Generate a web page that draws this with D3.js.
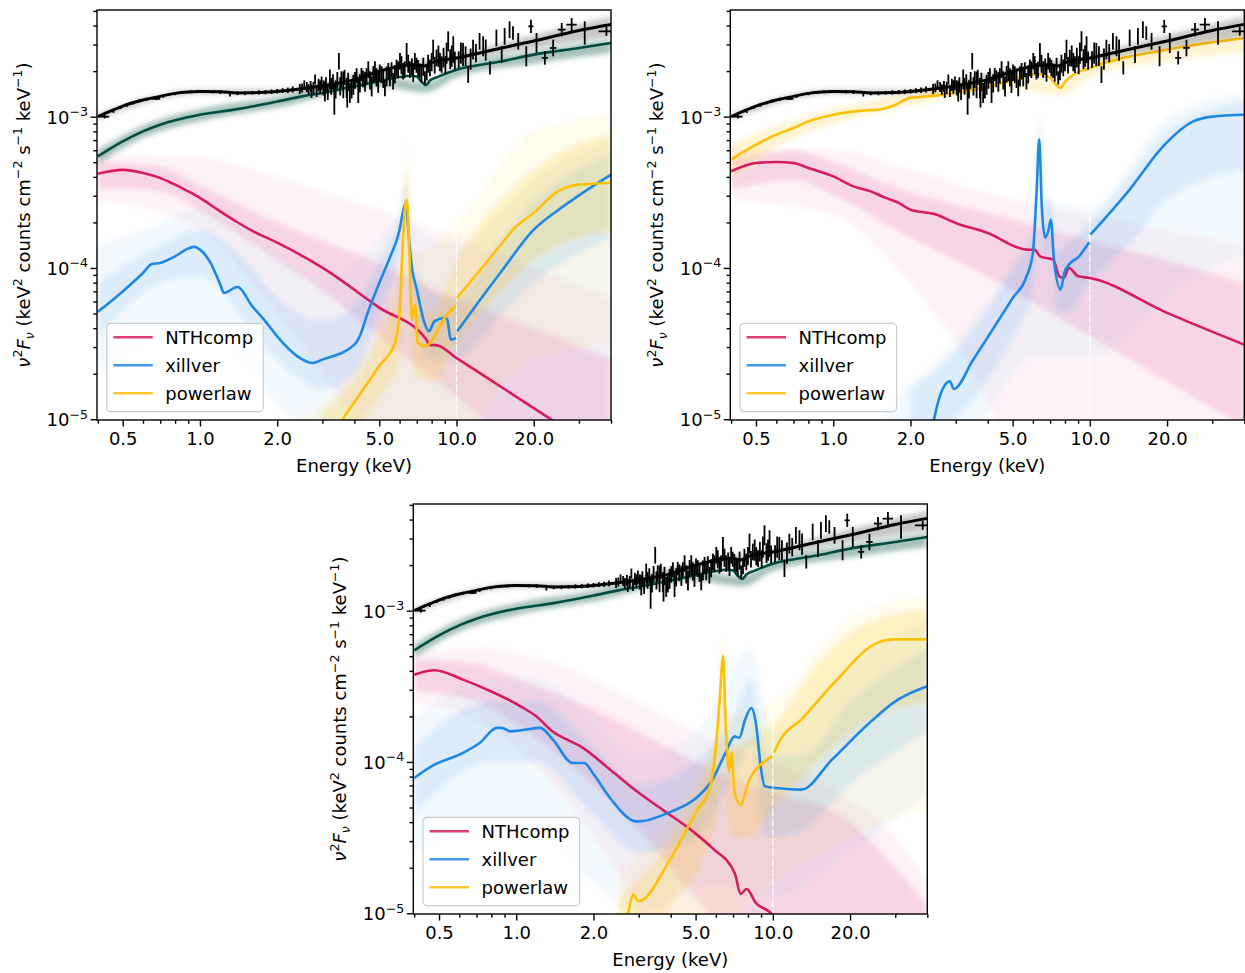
<!DOCTYPE html>
<html>
<head>
<meta charset="utf-8">
<script src="https://cdn.jsdelivr.net/npm/d3@7"></script>
<style>
  body { margin: 0; background: #fff; }
  svg { display: block; font-family: "DejaVu Sans", sans-serif; }
</style>
</head>
<body>
<svg id="fig" width="1245" height="973"></svg>
<script>
// ---------- ticks and labels ----------
const xMajor = [0.5, 1, 2, 5, 10, 20]
const xMajorLabels = ['0.5', '1.0', '2.0', '5.0', '10.0', '20.0']
const xMinor = [0.4, 0.6, 0.7, 0.8, 0.9, 3, 4, 6, 7, 8, 9, 30, 40]
const yMajor = [1e-5, 1e-4, 1e-3]
const yMajorExp = ['−5', '−4', '−3']
const yMinor = [2e-5, 3e-5, 4e-5, 5e-5, 6e-5, 7e-5, 8e-5, 9e-5,
  2e-4, 3e-4, 4e-4, 5e-4, 6e-4, 7e-4, 8e-4, 9e-4, 2e-3, 3e-3, 4e-3, 5e-3]
const legendLabels = ['NTHcomp', 'xillver', 'powerlaw']

// ---------- data: [energy keV, log10 flux, log10 error, energy half-width] ----------
const spectrum = [
  [0.425, -3.0, 0.012, 0.018], [0.46, -2.965, 0.01, 0], [0.49, -2.94, 0.01, 0], [0.52, -2.925, 0.01, 0],
  [0.55, -2.91, 0.01, 0], [0.58, -2.895, 0.01, 0], [0.62, -2.885, 0.01, 0], [0.675, -2.882, 0.008, 0.025],
  [0.72, -2.866, 0.01, 0], [0.8, -2.848, 0.01, 0], [0.86, -2.84, 0.01, 0], [0.92, -2.836, 0.01, 0],
  [0.98, -2.833, 0.01, 0], [1.05, -2.834, 0.01, 0], [1.12, -2.836, 0.01, 0], [1.2, -2.838, 0.012, 0],
  [1.31, -2.855, 0.012, 0], [1.4, -2.846, 0.012, 0], [1.5, -2.846, 0.012, 0], [1.6, -2.842, 0.012, 0],
  [1.7, -2.84, 0.014, 0], [1.8, -2.838, 0.014, 0], [1.9, -2.835, 0.015, 0], [2.0, -2.832, 0.015, 0],
  [2.1, -2.828, 0.016, 0], [2.2, -2.826, 0.018, 0], [2.3, -2.82, 0.02, 0], [2.45, -2.817, 0.033, 0],
  [2.5, -2.81, 0.03, 0], [2.55, -2.79, 0.03, 0], [2.61, -2.804, 0.033, 0], [2.65, -2.82, 0.035, 0],
  [2.7, -2.8, 0.035, 0], [2.72, -2.833, 0.044, 0], [2.77, -2.81, 0.04, 0], [2.81, -2.755, 0.033, 0],
  [2.85, -2.83, 0.04, 0], [2.9, -2.79, 0.04, 0], [2.94, -2.804, 0.044, 0], [2.98, -2.78, 0.045, 0],
  [3.03, -2.81, 0.05, 0], [3.07, -2.833, 0.066, 0], [3.1, -2.79, 0.05, 0], [3.15, -2.84, 0.05, 0],
  [3.21, -2.755, 0.066, 0], [3.25, -2.8, 0.055, 0], [3.3, -2.77, 0.05, 0], [3.34, -2.888, 0.099, 0],
  [3.38, -2.82, 0.06, 0], [3.43, -2.76, 0.055, 0], [3.48, -2.634, 0.055, 0], [3.52, -2.8, 0.06, 0],
  [3.56, -2.755, 0.055, 0], [3.62, -2.79, 0.088, 0], [3.66, -2.74, 0.05, 0], [3.73, -2.81, 0.066, 0],
  [3.75, -2.88, 0.06, 0], [3.78, -2.77, 0.06, 0], [3.84, -2.843, 0.066, 0], [3.9, -2.82, 0.06, 0],
  [3.96, -2.79, 0.066, 0], [4.02, -2.76, 0.055, 0], [4.08, -2.73, 0.05, 0], [4.14, -2.833, 0.077, 0],
  [4.2, -2.78, 0.06, 0], [4.26, -2.722, 0.044, 0], [4.32, -2.75, 0.055, 0], [4.4, -2.77, 0.066, 0],
  [4.46, -2.73, 0.05, 0], [4.53, -2.689, 0.055, 0], [4.6, -2.76, 0.06, 0], [4.67, -2.8, 0.066, 0],
  [4.74, -2.72, 0.055, 0], [4.81, -2.7, 0.066, 0], [4.88, -2.74, 0.06, 0], [4.95, -2.777, 0.066, 0],
  [5.02, -2.71, 0.055, 0], [5.1, -2.722, 0.055, 0], [5.18, -2.75, 0.06, 0], [5.26, -2.81, 0.055, 0],
  [5.34, -2.734, 0.066, 0], [5.42, -2.7, 0.055, 0], [5.5, -2.744, 0.055, 0], [5.58, -2.69, 0.05, 0],
  [5.66, -2.766, 0.055, 0], [5.75, -2.72, 0.06, 0], [5.84, -2.678, 0.055, 0], [5.92, -2.69, 0.055, 0],
  [6.02, -2.634, 0.055, 0], [6.1, -2.66, 0.06, 0], [6.19, -2.7, 0.055, 0], [6.28, -2.69, 0.055, 0],
  [6.39, -2.59, 0.077, 0], [6.48, -2.65, 0.06, 0], [6.58, -2.689, 0.055, 0], [6.7, -2.67, 0.055, 0],
  [6.78, -2.71, 0.06, 0], [6.88, -2.634, 0.055, 0], [6.98, -2.66, 0.05, 0], [7.08, -2.68, 0.055, 0],
  [7.19, -2.7, 0.044, 0], [7.3, -2.72, 0.05, 0], [7.42, -2.67, 0.06, 0], [7.53, -2.744, 0.044, 0],
  [7.65, -2.71, 0.05, 0], [7.75, -2.65, 0.06, 0], [7.88, -2.678, 0.055, 0], [8.0, -2.64, 0.06, 0],
  [8.11, -2.557, 0.066, 0], [8.22, -2.66, 0.055, 0], [8.36, -2.612, 0.055, 0], [8.5, -2.6, 0.07, 0],
  [8.62, -2.64, 0.06, 0], [8.75, -2.656, 0.055, 0], [8.9, -2.61, 0.065, 0], [9.05, -2.66, 0.06, 0],
  [9.15, -2.58, 0.07, 0], [9.28, -2.502, 0.066, 0], [9.45, -2.62, 0.065, 0], [9.58, -2.6, 0.07, 0],
  [9.71, -2.557, 0.088, 0], [9.85, -2.63, 0.06, 0], [10.2, -2.623, 0.055, 0], [10.4, -2.58, 0.07, 0],
  [10.6, -2.59, 0.077, 0], [10.85, -2.6, 0.065, 0], [11.1, -2.722, 0.055, 0], [11.35, -2.62, 0.07, 0],
  [11.6, -2.557, 0.066, 0], [11.9, -2.58, 0.06, 0], [12.3, -2.502, 0.055, 0], [12.7, -2.535, 0.066, 0],
  [13.0, -2.56, 0.07, 0], [13.5, -2.678, 0.044, 0], [14.3, -2.48, 0.055, 0], [15.0, -2.59, 0.055, 0],
  [15.4, -2.469, 0.055, 0], [16.1, -2.425, 0.055, 0], [16.6, -2.447, 0.044, 0], [17.4, -2.502, 0.055, 0],
  [18.7, -2.601, 0.066, 0], [19.5, -2.403, 0.044, 0.45], [20.5, -2.513, 0.066, 0], [22.1, -2.612, 0.044, 0.6],
  [23.8, -2.546, 0.055, 0.7], [25.7, -2.425, 0.044, 0.9], [28.1, -2.392, 0.044, 1.3], [31.6, -2.447, 0.077, 0],
  [38.4, -2.436, 0.03, 2.6]
]

// ---------- total model (black) and summed model (green), log10 flux ----------
const totalLog = [[0.4, -3.0], [0.45, -2.962], [0.5, -2.93], [0.6, -2.89], [0.7, -2.866], [0.8, -2.846],
  [0.9, -2.837], [1.0, -2.834], [1.2, -2.836], [1.4, -2.843], [1.6, -2.842], [2.0, -2.833], [2.5, -2.815],
  [3, -2.795], [4, -2.755], [5, -2.70], [6, -2.667], [6.4, -2.66], [7.0, -2.656], [7.5, -2.665], [8, -2.643],
  [10, -2.612], [15, -2.546], [20, -2.50], [30, -2.43], [40, -2.39]]
const totalLo = [[0.4, -3.02], [1, -2.85], [2, -2.85], [5, -2.72], [10, -2.64], [20, -2.55], [40, -2.47]]
const totalHi = [[0.4, -2.98], [1, -2.82], [2, -2.82], [5, -2.68], [10, -2.59], [20, -2.46], [40, -2.34]]

const modelLog = [[0.4, -3.262], [0.5, -3.163], [0.6, -3.097], [0.7, -3.053], [0.8, -3.024], [1.0, -2.987],
  [1.4, -2.95], [2.0, -2.90], [2.5, -2.866], [3, -2.843], [4, -2.80], [5, -2.766], [6, -2.738], [6.6, -2.73],
  [7.0, -2.735], [7.3, -2.77], [7.6, -2.79], [7.9, -2.76], [8.5, -2.735], [10, -2.69], [15, -2.634],
  [20, -2.59], [30, -2.546], [40, -2.513]]
const modelLo = [[0.4, -3.31], [0.6, -3.14], [1, -3.03], [2, -2.94], [5, -2.80], [7.6, -2.84], [10, -2.74],
  [20, -2.65], [40, -2.58]]
const modelHi = [[0.4, -3.22], [0.6, -3.06], [1, -2.95], [2, -2.87], [5, -2.74], [7.6, -2.77], [10, -2.67],
  [20, -2.57], [40, -2.49]]

// ---------- panel 1 components ----------
const p1Nth = [[0.4, -3.377], [0.5, -3.352], [0.6, -3.372], [0.7, -3.405], [0.8, -3.449], [0.9, -3.494],
  [1.0, -3.537], [1.2, -3.626], [1.4, -3.698], [1.6, -3.755], [2.0, -3.833], [3.0, -3.998], [5.0, -4.262],
  [7.6, -4.47], [7.9, -4.51], [8.3, -4.51], [10, -4.596], [20, -4.927], [40, -5.257]]
const p1NthBand = {
  lo: [[0.4, -3.47], [0.7, -3.49], [1, -3.62], [2, -3.95], [3, -4.15], [5, -4.45], [10, -4.85], [20, -5.3], [40, -5.8]],
  hi: [[0.4, -3.30], [0.7, -3.33], [1, -3.45], [2, -3.70], [3, -3.82], [5, -3.97], [10, -4.2], [20, -4.4], [40, -4.6]],
  lo2: [[0.4, -3.55], [1, -3.75], [2, -4.3], [3, -4.7], [5, -5.3], [10, -6], [40, -6]],
  hi2: [[0.4, -3.25], [1, -3.27], [2, -3.4], [3, -3.5], [5, -3.62], [10, -3.8], [20, -4.0], [40, -4.2]]
}
const p1XilA = [[0.4, -4.29], [0.5, -4.155], [0.6, -4.033], [0.65, -3.974], [0.7, -3.967], [0.8, -3.923],
  [0.9, -3.872], [0.95, -3.861], [1.0, -3.879], [1.1, -3.967], [1.2, -4.11], [1.24, -4.165], [1.4, -4.126],
  [1.6, -4.254], [1.8, -4.353], [2.0, -4.452], [2.4, -4.584], [2.75, -4.628], [3.0, -4.606], [4.0, -4.507],
  [4.2, -4.45], [4.5, -4.3], [5.0, -4.10], [5.5, -3.93], [6.0, -3.747], [6.2, -3.62], [6.35, -3.57],
  [6.5, -3.77], [6.7, -4.0], [7.0, -4.143], [7.5, -4.363], [7.8, -4.419], [8.2, -4.353], [9.0, -4.33],
  [9.2, -4.34], [9.5, -4.474], [9.95, -4.463]]
const p1XilB = [[10.05, -4.419], [12, -4.24], [15, -4.02], [20, -3.747], [25, -3.615], [30, -3.52], [40, -3.383]]
const p1XilBand = {
  lo: [[0.4, -4.45], [0.7, -4.1], [1, -4.05], [1.5, -4.35], [2, -4.6], [3, -4.8], [4, -4.7], [5, -4.3], [6.0, -3.9],
    [6.35, -3.65], [6.7, -4.2], [7.8, -4.6], [10, -4.6], [15, -4.3], [20, -4.1], [40, -3.8]],
  hi: [[0.4, -4.1], [0.7, -3.85], [1, -3.75], [1.5, -3.95], [2, -4.2], [3, -4.35], [4, -4.25], [5, -3.95], [6.0, -3.65],
    [6.35, -3.45], [6.7, -3.9], [7.8, -4.15], [10, -4.2], [15, -3.8], [20, -3.55], [40, -3.25]],
  lo2: [[0.4, -4.7], [1, -4.4], [2, -4.9], [3, -5.2], [5, -5], [10, -5.2], [20, -5.2], [40, -5]],
  hi2: [[0.4, -3.85], [0.7, -3.7], [1, -3.6], [2, -3.9], [3, -4.05], [5, -3.8], [6.1, -3.6], [6.35, -3.35],
    [6.7, -3.7], [10, -3.85], [20, -3.4], [40, -3.15]]
}
const p1PowA = [[3.5, -5.05], [3.67, -4.98], [4.0, -4.887], [4.5, -4.76], [5.0, -4.647], [5.75, -4.496],
  [6.0, -4.3], [6.15, -3.9], [6.3, -3.6], [6.4, -3.55], [6.55, -3.9], [6.7, -4.342], [6.9, -4.243],
  [7.05, -4.496], [7.6, -4.518], [8.0, -4.48], [9.0, -4.33], [9.9, -4.25]]
const p1PowB = [[10.05, -4.198], [12, -4.04], [15, -3.84], [16.6, -3.747], [20, -3.636], [25, -3.49],
  [30, -3.449], [40, -3.438]]
const p1PowBand = {
  lo: [[3, -5.2], [5, -4.85], [6.0, -4.6], [6.4, -3.8], [6.8, -4.7], [8, -4.75], [10, -4.5], [15, -4.15],
    [20, -3.95], [30, -3.8], [40, -3.75]],
  hi: [[3, -4.95], [5, -4.45], [6.0, -4.1], [6.4, -3.35], [6.8, -4.15], [8, -4.3], [10, -3.95], [15, -3.55],
    [20, -3.35], [30, -3.18], [40, -3.12]],
  lo2: [[2.5, -5.3], [5, -5.2], [10, -5.1], [20, -4.6], [40, -4.5]],
  hi2: [[2.5, -5.0], [4, -4.65], [5, -4.35], [6.1, -3.9], [6.4, -3.15], [6.7, -3.9], [10, -3.7], [20, -3.1], [40, -2.98]]
}

// ---------- panel 2 components ----------
const p2Nth = [[0.4, -3.361], [0.5, -3.306], [0.6, -3.30], [0.7, -3.306], [0.8, -3.339], [1.0, -3.395],
  [1.2, -3.461], [1.4, -3.494], [1.6, -3.537], [1.8, -3.57], [2.0, -3.615], [2.5, -3.645], [3.0, -3.703],
  [4.0, -3.769], [5.67, -3.879], [6.1, -3.88], [6.4, -3.923], [7.2, -3.945], [7.6, -4.055], [7.9, -4.066],
  [8.3, -4.0], [9.0, -4.055], [10, -4.066], [20, -4.297], [40, -4.507]]
const p2NthBand = {
  lo: [[0.4, -3.48], [0.7, -3.42], [1, -3.52], [2, -3.8], [3, -3.95], [5, -4.15], [10, -4.45], [20, -4.75], [40, -5.05]],
  hi: [[0.4, -3.28], [0.7, -3.22], [1, -3.3], [2, -3.5], [3, -3.58], [5, -3.68], [10, -3.82], [20, -3.95], [40, -4.1]],
  lo2: [[0.4, -3.55], [1, -3.65], [2, -4.1], [3, -4.5], [5, -5.2], [10, -6], [40, -6]],
  hi2: [[0.4, -3.22], [1, -3.22], [2, -3.35], [5, -3.55], [10, -3.65], [20, -3.75], [40, -3.85]]
}
const p2XilA = [[2.4, -5.1], [2.6, -4.85], [2.85, -4.749], [2.95, -4.8], [3.5, -4.61], [4.0, -4.458],
  [5.0, -4.2], [5.67, -4.055], [6.0, -3.9], [6.2, -3.5], [6.35, -3.15], [6.5, -3.6], [6.7, -3.8], [6.9, -3.75],
  [7.05, -3.68], [7.25, -3.95], [7.7, -4.143], [7.95, -4.033], [8.4, -3.967], [9.0, -3.93], [9.7, -3.857],
  [9.95, -3.83]]
const p2XilB = [[10.05, -3.78], [14.3, -3.482], [19.3, -3.196], [25.3, -3.031], [30, -3.0], [40, -2.987]]
const p2XilBand = {
  lo: [[2.0, -5.2], [3, -5.0], [5, -4.45], [6.0, -4.15], [6.35, -3.3], [6.6, -4.0], [7.05, -3.85], [7.4, -4.3],
    [8, -4.3], [10, -4.1], [15, -3.8], [20, -3.55], [40, -3.35]],
  hi: [[2.0, -4.8], [3, -4.55], [5, -4.0], [6.0, -3.75], [6.35, -3.05], [6.6, -3.55], [7.05, -3.55], [7.4, -3.9],
    [8, -3.85], [10, -3.7], [15, -3.35], [20, -3.1], [40, -2.9]],
  lo2: [[1.6, -5.2], [3, -5.2], [6, -4.6], [10, -4.6], [20, -4.2], [40, -3.9]],
  hi2: [[1.6, -4.9], [2.7, -4.55], [5, -3.95], [6.1, -3.65], [6.35, -2.98], [6.7, -3.55], [10, -3.6], [20, -3.0], [40, -2.84]]
}
const p2Pow = [[0.4, -3.284], [0.5, -3.185], [0.6, -3.119], [0.7, -3.075], [0.8, -3.031], [1.0, -2.987],
  [1.3, -2.96], [1.5, -2.954], [1.7, -2.93], [2.0, -2.876], [2.2, -2.87], [3, -2.843], [4, -2.804],
  [5, -2.756], [5.8, -2.722], [6.4, -2.72], [7.0, -2.745], [7.4, -2.79], [7.7, -2.81], [8.0, -2.77],
  [8.6, -2.725], [10, -2.678], [20, -2.557], [40, -2.48]]
const p2PowBand = {
  lo: [[0.4, -3.42], [0.6, -3.2], [1, -3.05], [2, -2.93], [5, -2.81], [7.7, -2.86], [10, -2.74], [20, -2.63], [40, -2.58]],
  hi: [[0.4, -3.18], [0.6, -3.06], [1, -2.95], [2, -2.84], [5, -2.73], [7.7, -2.78], [10, -2.65], [20, -2.53], [40, -2.45]]
}

// ---------- panel 3 components ----------
const p3Nth = [[0.4, -3.423], [0.48, -3.394], [0.62, -3.456], [0.77, -3.522], [1.04, -3.632], [1.2, -3.70],
  [1.39, -3.80], [1.58, -3.853], [1.78, -3.897], [2.32, -4.05], [2.95, -4.194], [3.75, -4.32], [4.78, -4.447],
  [5.8, -4.568], [7.1, -4.734], [7.5, -4.872], [7.9, -4.84], [8.6, -4.933], [9.7, -4.99], [10.5, -5.05]]
const p3NthBand = {
  lo: [[0.4, -3.53], [0.7, -3.6], [1, -3.75], [2, -4.15], [3, -4.45], [5, -4.9], [8, -5.3], [20, -6], [40, -6]],
  hi: [[0.4, -3.32], [0.7, -3.35], [1, -3.45], [2, -3.65], [3, -3.8], [5, -4.0], [8, -4.15], [10, -4.2],
    [20, -4.4], [30, -4.7], [40, -4.95]],
  lo2: [[0.4, -3.6], [1, -3.9], [2, -4.5], [3, -5], [5, -6], [40, -6]],
  hi2: [[0.4, -3.27], [0.8, -3.25], [1, -3.28], [2, -3.45], [3, -3.6], [5, -3.8], [10, -4.0], [20, -4.25],
    [30, -4.5], [40, -4.8]]
}
const p3XilA = [[0.4, -4.106], [0.48, -4.018], [0.6, -3.952], [0.72, -3.875], [0.84, -3.775], [0.88, -3.775],
  [0.95, -3.798], [1.05, -3.79], [1.24, -3.775], [1.39, -3.853], [1.66, -4.007], [1.84, -4.007], [2.0, -4.08],
  [2.32, -4.238], [2.95, -4.393], [3.0, -4.393], [3.76, -4.348], [5.7, -4.14], [6.5, -3.95], [7.1, -3.831],
  [7.4, -3.84], [7.8, -3.72], [8.25, -3.643], [8.6, -3.75], [9.0, -4.05], [9.3, -4.161], [9.95, -4.17]]
const p3XilB = [[10.05, -4.17], [12.9, -4.183], [17, -3.985], [24.6, -3.72], [30, -3.6], [40, -3.5]]
const p3XilBand = {
  lo: [[0.4, -4.35], [0.8, -4.0], [1.2, -4.0], [2, -4.35], [3, -4.6], [5, -4.5], [7, -4.1], [8.25, -3.9],
    [9.3, -4.5], [10, -4.5], [13, -4.45], [20, -4.15], [40, -3.8]],
  hi: [[0.4, -3.9], [0.8, -3.6], [1.2, -3.6], [2, -3.9], [3, -4.15], [5, -4.0], [7, -3.7], [8.25, -3.45],
    [9.3, -3.9], [10, -3.95], [13, -3.95], [20, -3.6], [40, -3.25]],
  lo2: [[0.4, -4.6], [1, -4.4], [2, -4.8], [3, -5], [6, -4.8], [10, -4.9], [20, -4.6], [40, -4.2]],
  hi2: [[0.4, -3.7], [0.8, -3.45], [1.2, -3.45], [2, -3.7], [3, -3.95], [5, -3.8], [8.25, -3.25], [9.5, -3.7],
    [10, -3.8], [20, -3.35], [40, -3.05]]
}
const p3PowA = [[2.6, -5.1], [2.73, -5.0], [2.85, -4.877], [3.0, -4.92], [3.97, -4.646], [5.0, -4.336],
  [5.7, -4.161], [6.0, -3.9], [6.2, -3.6], [6.4, -3.3], [6.55, -3.75], [6.75, -4.062], [6.9, -3.94],
  [7.1, -4.205], [7.5, -4.282], [8.05, -4.128], [9.7, -3.974], [9.95, -3.96]]
const p3PowB = [[10.1, -3.94], [10.7, -3.853], [12.9, -3.72], [17.3, -3.478], [25.5, -3.213], [29.6, -3.19], [40, -3.19]]
const p3PowBand = {
  lo: [[2.5, -5.2], [4, -4.95], [5.7, -4.5], [6.2, -4.2], [6.4, -3.7], [6.6, -4.3], [7, -4.5], [8, -4.5],
    [10, -4.3], [15, -4.0], [20, -3.8], [40, -3.6]],
  hi: [[2.5, -4.9], [4, -4.5], [5.7, -3.95], [6.2, -3.7], [6.4, -3.2], [6.6, -3.8], [7, -3.9], [8, -3.85],
    [10, -3.75], [15, -3.35], [20, -3.15], [40, -2.98]],
  lo2: [[2.5, -5.3], [5, -5.2], [10, -4.8], [20, -4.5], [40, -4.3]],
  hi2: [[2.5, -4.75], [5, -4.1], [6.1, -3.8], [6.4, -3.15], [6.7, -3.7], [10, -3.6], [20, -3.05], [40, -2.9]]
}

// ---------- layout ----------
const colors = { nth: '#d81b60', xil: '#1e88e5', pow: '#ffc107', model: '#004d40', total: '#000000' }
const xDomain = [0.397, 40]
const yDomain = [Math.pow(10, -5.005), Math.pow(10, -2.295)]
const fontSize = 18

const panels = [
  { x: 97, y: 10, w: 514, h: 410, showModel: true,
    nth: [p1Nth], nthBand: p1NthBand, xil: [p1XilA, p1XilB], xilBand: p1XilBand, pow: [p1PowA, p1PowB], powBand: p1PowBand },
  { x: 730.3, y: 10, w: 514, h: 410, showModel: false,
    nth: [p2Nth], nthBand: p2NthBand, xil: [p2XilA, p2XilB], xilBand: p2XilBand, pow: [p2Pow], powBand: p2PowBand },
  { x: 413.3, y: 504, w: 514, h: 410, showModel: true,
    nth: [p3Nth], nthBand: p3NthBand, xil: [p3XilA, p3XilB], xilBand: p3XilBand, pow: [p3PowA, p3PowB], powBand: p3PowBand }
]

const svg = d3.select('#fig')

// soft edges for the posterior sample bands
const soft = svg.append('defs').append('filter').attr('id', 'soft')
  .attr('x', '-10%').attr('y', '-10%').attr('width', '120%').attr('height', '120%')
soft.append('feGaussianBlur').attr('stdDeviation', 2.5)

// draws text made of pieces: [string, kind] where kind is n, i, sup, sub, isub
function mathText (sel, parts, size) {
  let shift = 0
  for (const [s, kind] of parts) {
    let target = 0
    if (kind === 'sup') target = -0.42 * size
    if (kind === 'sub' || kind === 'isub') target = 0.22 * size
    const t = sel.append('tspan').text(s).attr('dy', target - shift)
    if (kind === 'i' || kind === 'isub') t.attr('font-style', 'italic')
    if (kind === 'sup' || kind === 'sub' || kind === 'isub') t.attr('font-size', size * 0.7)
    shift = target
  }
}

const yLabelParts = [['ν', 'i'], ['2', 'sup'], ['F', 'i'], ['ν', 'isub'], [' (keV', 'n'], ['2', 'sup'],
  [' counts cm', 'n'], ['−2', 'sup'], [' s', 'n'], ['−1', 'sup'], [' keV', 'n'], ['−1', 'sup'], [')', 'n']]

function drawPanel (p, idx) {
  const g = svg.append('g').attr('transform', `translate(${p.x},${p.y})`)
  const x = d3.scaleLog().domain(xDomain).range([0, p.w])
  const y = d3.scaleLog().domain(yDomain).range([p.h, 0])

  const line = d3.line()
    .x(d => x(d[0]))
    .y(d => y(Math.pow(10, d[1])))
    .curve(d3.curveMonotoneX)

  const band = (lo, hi) => {
    const top = line(hi)
    const bottom = line(lo.slice().reverse())
    return top + 'L' + bottom.slice(1) + 'Z'
  }

  g.append('clipPath').attr('id', 'clip' + idx)
    .append('rect').attr('width', p.w).attr('height', p.h)

  const plot = g.append('g').attr('clip-path', `url(#clip${idx})`)

  // sample bands (faint, blurred)
  const haze = plot.append('g').attr('filter', 'url(#soft)')
  const comps = [['nth', p.nthBand], ['xil', p.xilBand], ['pow', p.powBand]]
  for (const [key, b] of comps) {
    if (b.lo2) {
      haze.append('path').attr('d', band(b.lo2, b.hi2))
        .attr('fill', colors[key]).attr('fill-opacity', key === 'pow' ? 0.07 : 0.05)
    }
    haze.append('path').attr('d', band(b.lo, b.hi))
      .attr('fill', colors[key]).attr('fill-opacity', key === 'pow' ? 0.18 : 0.12)
  }

  // gap in the model grid at 10 keV
  plot.append('line')
    .attr('x1', x(10)).attr('x2', x(10))
    .attr('y1', y(Math.pow(10, -3.25))).attr('y2', p.h)
    .attr('stroke', '#fff').attr('stroke-width', 1.2).attr('stroke-dasharray', '8,2')

  // component best fits
  for (const key of ['nth', 'xil', 'pow']) {
    for (const seg of p[key]) {
      plot.append('path').attr('d', line(seg))
        .attr('fill', 'none').attr('stroke', colors[key]).attr('stroke-width', 2.6)
    }
  }

  const top = plot.append('g').attr('filter', 'url(#soft)')
  if (p.showModel) {
    top.append('path').attr('d', band(modelLo, modelHi))
      .attr('fill', colors.model).attr('fill-opacity', 0.35)
  }
  top.append('path').attr('d', band(totalLo, totalHi))
    .attr('fill', colors.total).attr('fill-opacity', 0.22)
  if (p.showModel) {
    plot.append('path').attr('d', line(modelLog))
      .attr('fill', 'none').attr('stroke', colors.model).attr('stroke-width', 2.6)
  }

  // data with error bars
  const pts = plot.append('g').attr('stroke', '#000').attr('stroke-width', 1.8)
  pts.selectAll('.ey').data(spectrum).join('line')
    .attr('x1', d => x(d[0])).attr('x2', d => x(d[0]))
    .attr('y1', d => y(Math.pow(10, d[1] - d[2]))).attr('y2', d => y(Math.pow(10, d[1] + d[2])))
  pts.selectAll('.ex').data(spectrum.filter(d => d[3] > 0)).join('line')
    .attr('x1', d => x(d[0] - d[3])).attr('x2', d => x(d[0] + d[3]))
    .attr('y1', d => y(Math.pow(10, d[1]))).attr('y2', d => y(Math.pow(10, d[1])))

  plot.append('path').attr('d', line(totalLog))
    .attr('fill', 'none').attr('stroke', colors.total).attr('stroke-width', 3)

  // axes
  const ax = g.append('g').attr('transform', `translate(0,${p.h})`)
  ax.call(d3.axisBottom(x).tickValues(xMajor).tickFormat((d, i) => xMajorLabels[i]).tickSize(6.5).tickPadding(6))
  ax.append('g').call(d3.axisBottom(x).tickValues(xMinor).tickFormat('').tickSize(3.7))
  ax.selectAll('.domain').remove()
  ax.selectAll('text').attr('font-size', fontSize).attr('font-family', 'DejaVu Sans').attr('fill', '#000')
  ax.selectAll('line').attr('stroke-width', 1.4)

  const ay = g.append('g')
  ay.call(d3.axisLeft(y).tickValues(yMajor).tickFormat('').tickSize(6.5))
  ay.append('g').call(d3.axisLeft(y).tickValues(yMinor).tickFormat('').tickSize(3.7))
  ay.selectAll('.domain').remove()
  ay.selectAll('line').attr('stroke-width', 1.4)
  yMajor.forEach((v, i) => {
    const t = g.append('text').attr('x', -9).attr('y', y(v) + 7)
      .attr('text-anchor', 'end').attr('font-size', fontSize)
    mathText(t, [['10', 'n'], [yMajorExp[i], 'sup']], fontSize)
  })

  g.append('rect').attr('width', p.w).attr('height', p.h)
    .attr('fill', 'none').attr('stroke', '#000').attr('stroke-width', 1.4)

  g.append('text').attr('x', p.w / 2).attr('y', p.h + 52)
    .attr('text-anchor', 'middle').attr('font-size', fontSize).text('Energy (keV)')

  const yl = g.append('text')
    .attr('transform', `translate(${-67},${p.h / 2}) rotate(-90)`)
    .attr('text-anchor', 'middle').attr('font-size', fontSize)
  mathText(yl, yLabelParts, fontSize)

  // legend
  const lg = g.append('g').attr('transform', `translate(9.7,${p.h - 8.3 - 88.4})`)
  lg.append('rect').attr('width', 156.6).attr('height', 88.4).attr('rx', 4)
    .attr('fill', '#fff').attr('fill-opacity', 0.8).attr('stroke', '#cccccc').attr('stroke-width', 1.2)
  const keys = ['nth', 'xil', 'pow']
  legendLabels.forEach((name, i) => {
    const ry = 14 + i * 28
    lg.append('line').attr('x1', 6.6).attr('x2', 46).attr('y1', ry).attr('y2', ry)
      .attr('stroke', colors[keys[i]]).attr('stroke-width', 2.6).attr('stroke-opacity', 0.85)
    lg.append('text').attr('x', 58.5).attr('y', ry + 6.5).attr('font-size', fontSize).text(name)
  })
}

panels.forEach(drawPanel)
</script>
</body>
</html>
